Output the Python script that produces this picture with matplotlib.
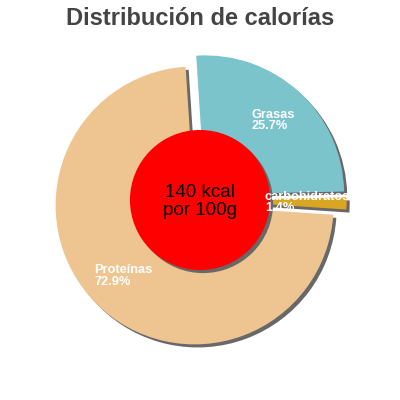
import matplotlib
matplotlib.use("Agg")
from matplotlib import pyplot as plt
from matplotlib.patches import Circle

plt.rcParams['font.family'] = ['Liberation Sans', 'DejaVu Sans']

names = ["Grasas", "carbohidratos", "Proteínas"]
shares = [25.7, 1.4, 72.9]
colors = ["#7cc4cc", "#daa520", "#eec591"]
kcal = 140
title = "Distribución de calorías"

labels = [f"{n}\n{v}%" for n, v in zip(names, shares)]
explode = [0.055] * len(shares)

fig = plt.figure(figsize=(4, 4), dpi=100)
ax = fig.add_axes([0, 0, 1, 1])

# shadows first, as a grey copy of the pie moved down-right
sh = 0.022
ax.pie(shares, explode=explode, startangle=93.7, counterclock=False,
       colors=["#686868"] * len(shares), center=(sh, -sh),
       wedgeprops=dict(linewidth=0))
wedges, texts = ax.pie(shares, explode=explode, startangle=93.7,
                       counterclock=False, colors=colors,
                       labels=labels, labeldistance=0.72,
                       wedgeprops=dict(linewidth=0),
                       textprops=dict(color="white", fontsize=9.2,
                                      fontweight="bold"))
for t in texts:
    t.set_ha("center")
    t.set_va("center")
    t.set_multialignment("left")
    t.set_linespacing(0.95)
    t.set_zorder(5)

ax.add_patch(Circle((sh, -sh), 0.504, color="#686868", linewidth=0, zorder=3))
ax.add_patch(Circle((0, 0), 0.504, color="#ff0000", linewidth=0, zorder=4))
ax.text(0, -0.01, f"{kcal} kcal\npor 100g", ha="center", va="center",
        fontsize=13.5, color="black", linespacing=1.1, zorder=6)

ax.set_xlim(-1.439, 1.439)
ax.set_ylim(-1.439, 1.439)
ax.set_aspect("equal")
ax.axis("off")

fig.text(0.5, 0.953, title, ha="center", va="center", fontsize=17,
         fontweight="bold", color="#444444")

fig.savefig("out.png", dpi=100)
